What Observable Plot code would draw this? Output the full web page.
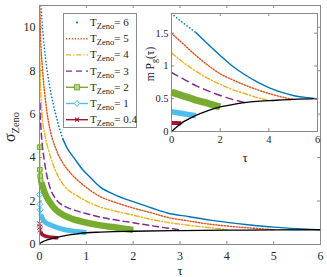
<!DOCTYPE html>
<html><head><meta charset="utf-8">
<script src="https://cdn.jsdelivr.net/npm/d3@7"></script>
<script src="https://cdn.jsdelivr.net/npm/@observablehq/plot@0.6"></script>
<style>
body{margin:0;background:#fff;}
#wrap{position:relative;width:327px;height:277px;font-family:"Liberation Serif",serif;}
#wrap svg{position:absolute;overflow:visible;}
</style></head><body><div id="wrap"></div>
<script>
// ---- series labels ----
const T_values = [6, 5, 4, 3, 2, 1, 0.4];

// ---- main chart: sigma_Zeno vs tau ----
const tauMain6 = [0.035,0.05,0.08,0.13,0.2,0.3,0.4,0.5,0.6,0.75,0.9,1.1,1.3,1.6,2,2.4,2.73,3.2,3.65,4,4.5,5,5.5,6];
const sigMain6 = [11,10.4,9.6,8.55,7.5,6.4,5.55,4.85,4.4,3.95,3.5,3.05,2.64,2.3,1.97,1.68,1.45,1.28,1.12,1.02,0.9,0.8,0.73,0.68];
const tauMain5 = [0.008,0.02,0.06,0.13,0.18,0.235,0.35,0.5,0.7,0.9,1.3,1.6,2,2.4,2.73,3.2,3.65,4,4.5,5];
const sigMain5 = [11,9.7,8.2,6.6,5.8,5.2,4.4,3.75,3.2,2.8,2.2,1.95,1.68,1.45,1.25,1.08,0.93,0.85,0.76,0.68];
const tauMain4 = [0.005,0.02,0.06,0.12,0.2,0.34,0.55,0.8,1,1.3,1.6,2,2.4,2.73,3.2,3.65,4];
const sigMain4 = [8.9,7.5,5.9,5.0,4.3,3.41,2.64,2.25,2.0,1.72,1.55,1.35,1.15,1.02,0.88,0.77,0.68];
const tauMain3 = [0.01,0.03,0.06,0.1,0.15,0.235,0.33,0.45,0.6,0.87,1.3,2,2.5,3];
const sigMain3 = [6.5,5.4,4.6,3.9,3.25,2.55,2.15,1.87,1.7,1.5,1.26,1.0,0.83,0.67];
const tauMain2 = [0.003,0.008,0.015,0.025,0.04,0.07,0.1,0.15,0.235,0.35,0.52,0.7,0.95,1.3,1.6,2];
const sigMain2 = [4.48,3.44,3.15,2.95,2.85,2.65,2.45,2.2,1.9,1.6,1.34,1.18,1.03,0.88,0.79,0.67];
const tauMain1 = [0.003,0.008,0.015,0.03,0.06,0.1,0.15,0.235,0.35,0.52,0.75,1];
const sigMain1 = [2.3,1.85,1.6,1.38,1.2,1.07,0.98,0.9,0.8,0.69,0.61,0.55];
const tauMain04 = [0.002,0.006,0.012,0.025,0.05,0.1,0.2,0.3,0.4];
const sigMain04 = [0.95,0.8,0.68,0.57,0.48,0.41,0.35,0.32,0.31];
const tauMainBlack = [0,0.02,0.05,0.1,0.2,0.3,0.4,0.6,0.8,1,1.3,1.6,2,3,4,5,6];
const sigMainBlack = [0,0.06,0.11,0.16,0.24,0.29,0.34,0.43,0.49,0.54,0.57,0.59,0.61,0.64,0.66,0.67,0.68];

// ---- inset: m P_g(tau) vs tau ----
const tauIn6 = [0,0.5,1,1.5,2,2.5,3,3.5,4,4.5,5,5.5,6];
const pIn6   = [1.8,1.65,1.51,1.33,1.16,1.0,0.87,0.76,0.67,0.6,0.55,0.52,0.5];
const tauIn5 = [0,0.5,1,1.5,2,2.5,3,3.5,4,4.5,5];
const pIn5   = [1.5,1.33,1.16,1.01,0.88,0.79,0.71,0.64,0.58,0.53,0.49];
const tauIn4 = [0,0.5,1,1.5,2,2.5,3,3.5,4];
const pIn4   = [1.2,1.05,0.92,0.81,0.72,0.64,0.58,0.52,0.47];
const tauIn3 = [0,0.5,1,1.5,2,2.5,3];
const pIn3   = [0.9,0.8,0.7,0.62,0.55,0.49,0.44];
const tauIn2 = [0,0.5,1,1.5,2];
const pIn2   = [0.6,0.54,0.48,0.43,0.375];
const tauIn1 = [0,0.25,0.5,0.75,1];
const pIn1   = [0.3,0.285,0.27,0.255,0.24];
const tauIn04 = [0,0.2,0.4];
const pIn04   = [0.13,0.13,0.125];
const tauInBlack = [0,0.25,0.5,0.75,1,1.5,2,2.5,3,3.5,4,5,6];
const pInBlack   = [0,0.08,0.15,0.2,0.245,0.32,0.375,0.41,0.44,0.46,0.47,0.49,0.5];

// ---- ticks ----
const xTicksMain = [0,1,2,3,4,5,6];
const yTicksMain = [0,2,4,6,8,10];
const xTicksIn = [0,2,4,6];
const yTicksIn = [0,0.5,1,1.5];

// ---- styles ----
const colors = ["#0072BD","#D95319","#EDB120","#7E2F8E","#77AC30","#4DBEEE","#A2142F"];
const axisGray = "#8a8a8a";
const textCol = "#262626";

const rows = (ts, vs) => ts.map((t, i) => ({t, v: vs[i]}));
const M = [rows(tauMain6,sigMain6), rows(tauMain5,sigMain5), rows(tauMain4,sigMain4), rows(tauMain3,sigMain3),
           rows(tauMain2,sigMain2), rows(tauMain1,sigMain1), rows(tauMain04,sigMain04)];
const MB = rows(tauMainBlack, sigMainBlack);
const I = [rows(tauIn6,pIn6), rows(tauIn5,pIn5), rows(tauIn4,pIn4), rows(tauIn3,pIn3),
           rows(tauIn2,pIn2), rows(tauIn1,pIn1), rows(tauIn04,pIn04)];
const IB = rows(tauInBlack, pInBlack);

function seriesMarks(S, B, opt) {
  const base = {x: "t", y: "v", curve: "monotone-x"};
  return [
    // T=6: dots (dense -> solid)
    Plot.line(S[0].filter(d => d.t <= opt.dotUntil), {...base, stroke: colors[0], strokeWidth: 1.6, strokeDasharray: "0.1 3.2", strokeLinecap: "round"}),
    Plot.line(S[0].filter(d => d.t >= opt.dotUntil), {...base, stroke: colors[0], strokeWidth: 1.4}),
    // T=5 dotted
    Plot.line(S[1], {...base, stroke: colors[1], strokeWidth: 1.4, strokeDasharray: "1.3 1.6"}),
    // T=4 dash-dot
    Plot.line(S[2], {...base, stroke: colors[2], strokeWidth: 1.4, strokeDasharray: "5 2 1.3 2"}),
    // T=3 dashed
    Plot.line(S[3], {...base, stroke: colors[3], strokeWidth: 1.5, strokeDasharray: opt.dash3}),
    // T=2 squares
    Plot.line(S[4], {...base, stroke: colors[4], strokeWidth: 1.2}),
    Plot.line(S[4].filter(d => d.t >= opt.band), {...base, stroke: colors[4], strokeWidth: opt.w2, strokeLinecap: "butt"}),
    Plot.dot(S[4].filter(d => d.t < opt.band), {x: "t", y: "v", symbol: "square", r: 2.6, stroke: colors[4], fill: "#b5d68f", strokeWidth: 1}),
    // T=1 diamonds
    Plot.line(S[5], {...base, stroke: colors[5], strokeWidth: 1.2}),
    Plot.line(S[5].filter(d => d.t >= opt.band), {...base, stroke: colors[5], strokeWidth: opt.w1, strokeLinecap: "butt"}),
    Plot.dot(S[5].filter(d => d.t < opt.band), {x: "t", y: "v", symbol: "diamond2", r: 2.8, stroke: colors[5], strokeWidth: 1}),
    // T=0.4 crosses
    Plot.line(S[6], {...base, stroke: colors[6], strokeWidth: 1.2}),
    Plot.line(S[6].filter(d => d.t >= opt.band04), {...base, stroke: colors[6], strokeWidth: opt.w04, strokeLinecap: "butt"}),
    Plot.dot(S[6].filter(d => d.t < opt.band04), {x: "t", y: "v", symbol: "times", r: 2.4, stroke: colors[6], strokeWidth: 1}),
    // black reference
    Plot.line(B, {...base, stroke: "black", strokeWidth: 1.3})
  ];
}

function frameTicks(xt, yt, fw, fh, len) {
  return [
    Plot.tickX(xt, {x: d => d, insetTop: fh - len, stroke: axisGray}),
    Plot.tickX(xt, {x: d => d, insetBottom: fh - len, stroke: axisGray}),
    Plot.tickY(yt, {y: d => d, insetRight: fw - len, stroke: axisGray}),
    Plot.tickY(yt, {y: d => d, insetLeft: fw - len, stroke: axisGray}),
    Plot.frame({stroke: axisGray})
  ];
}

// ---- main plot ----
const W = 327, H = 277, mL = 39, mR = 7, mT = 5, mB = 33;
const mainSvg = Plot.plot({
  width: W, height: H, marginLeft: mL, marginRight: mR, marginTop: mT, marginBottom: mB,
  x: {domain: [0, 6]}, y: {domain: [0, 11]},
  style: {fontFamily: "Liberation Serif", background: "transparent", color: textCol},
  marks: [
    ...seriesMarks(M, MB, {dotUntil: 0.5, band: 0.03, band04: 0.02, w2: 6.5, w1: 5, w04: 3.5, dash3: "6 4"}),
    ...frameTicks(xTicksMain, yTicksMain, W - mL - mR, H - mT - mB, 3),
    Plot.axisX({ticks: xTicksMain, tickSize: 0, tickPadding: 7, fontSize: 12, label: null, tickFormat: d => String(d), fill: textCol}),
    Plot.axisY({ticks: yTicksMain, tickSize: 0, tickPadding: 4, fontSize: 12, label: null, tickFormat: d => String(d), fill: textCol})
  ]
});
mainSvg.style.left = "0px"; mainSvg.style.top = "0px";
document.getElementById("wrap").appendChild(mainSvg);

const ms = d3.select(mainSvg);
// axis titles
const yl = ms.append("text").attr("transform", "translate(15,127) rotate(-90)")
  .attr("text-anchor", "middle").attr("fill", textCol).attr("font-family", "Liberation Serif").attr("font-size", 16);
yl.append("tspan").text("σ");
yl.append("tspan").attr("font-size", 10.5).attr("dy", 3.5).text("Zeno");
ms.append("text").attr("x", 180).attr("y", 275).attr("text-anchor", "middle").attr("fill", textCol)
  .attr("font-family", "Liberation Serif").attr("font-size", 13).text("τ");

// legend
const lg = ms.append("g").attr("font-family", "Liberation Serif");
lg.append("rect").attr("x", 63.5).attr("y", 13.5).attr("width", 73).attr("height", 114)
  .attr("fill", "#ffffff").attr("stroke", axisGray).attr("stroke-width", 1);
const legendDash = [null, "1.3 1.6", "5 2 1.3 2", "6 4", null, null, null];
T_values.forEach((T, i) => {
  const y = 22.5 + 16.2 * i, x0 = 66, x1 = 88, xc = 77;
  if (i > 0) {
    lg.append("line").attr("x1", x0).attr("x2", x1).attr("y1", y).attr("y2", y)
      .attr("stroke", colors[i]).attr("stroke-width", 1.4).attr("stroke-dasharray", legendDash[i]);
  }
  if (i === 0) lg.append("circle").attr("cx", xc).attr("cy", y).attr("r", 1.1).attr("fill", colors[0]);
  if (i === 4) lg.append("rect").attr("x", xc - 2.6).attr("y", y - 2.6).attr("width", 5.2).attr("height", 5.2)
      .attr("fill", "#b5d68f").attr("stroke", colors[4]);
  if (i === 5) lg.append("path").attr("d", `M${xc},${y-3}L${xc+2.6},${y}L${xc},${y+3}L${xc-2.6},${y}Z`)
      .attr("fill", "white").attr("stroke", colors[5]);
  if (i === 6) lg.append("path").attr("d", `M${xc-2},${y-2}L${xc+2},${y+2}M${xc-2},${y+2}L${xc+2},${y-2}`)
      .attr("stroke", colors[6]).attr("stroke-width", 1.1);
  const t = lg.append("text").attr("x", 90).attr("y", y + 3.5).attr("font-size", 11)
    .attr("text-anchor", "start").attr("fill", textCol);
  t.append("tspan").text("T");
  t.append("tspan").attr("font-size", 8.5).attr("dy", 3).text("Zeno");
  t.append("tspan").attr("dy", -3).text("= " + T);
});

// ---- inset ----
const iW = 207, iH = 170, iL = 51, iR = 10, iT = 13, iB = 39;
const insetSvg = Plot.plot({
  width: iW, height: iH, marginLeft: iL, marginRight: iR, marginTop: iT, marginBottom: iB,
  x: {domain: [0, 6]}, y: {domain: [0, 1.8]},
  style: {fontFamily: "Liberation Serif", background: "transparent", color: textCol},
  marks: [
    Plot.frame({fill: "white", stroke: "none"}),
    ...seriesMarks(I, IB, {dotUntil: 1.0, band: -1, band04: -1, w2: 7, w1: 5.5, w04: 4, dash3: "7 5"}),
    ...frameTicks(xTicksIn, yTicksIn, iW - iL - iR, iH - iT - iB, 3),
    Plot.axisX({ticks: xTicksIn, tickSize: 0, tickPadding: 4, fontSize: 10.5, label: null, tickFormat: d => String(d), fill: textCol}),
    Plot.axisY({ticks: yTicksIn, tickSize: 0, tickPadding: 3, fontSize: 10.5, label: null, tickFormat: d => String(d), fill: textCol})
  ]
});
insetSvg.style.left = "120px"; insetSvg.style.top = "0px";
document.getElementById("wrap").appendChild(insetSvg);
const is = d3.select(insetSvg);
is.append("text").attr("x", 125).attr("y", 162).attr("text-anchor", "middle").attr("fill", textCol)
  .attr("font-family", "Liberation Serif").attr("font-size", 13).text("τ");
const il = is.append("text").attr("transform", "translate(34,64) rotate(-90)").attr("text-anchor", "middle")
  .attr("fill", textCol).attr("font-family", "Liberation Serif").attr("font-size", 11.5);
il.append("tspan").text("m P");
il.append("tspan").attr("font-size", 8).attr("dy", 2.5).text("g");
il.append("tspan").attr("dy", -2.5).text("(τ)");
</script>
</body></html>
